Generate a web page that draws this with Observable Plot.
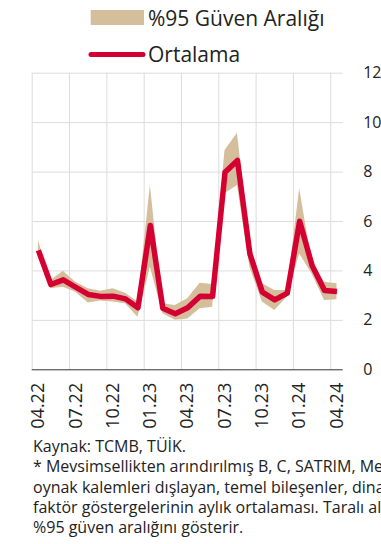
<!DOCTYPE html>
<html>
<head>
<meta charset="utf-8">
<script src="https://cdn.jsdelivr.net/npm/d3@7"></script>
<script src="https://cdn.jsdelivr.net/npm/@observablehq/plot@0.6"></script>
<style>
  html, body { margin: 0; padding: 0; background: #fff; width: 381px; height: 544px; overflow: hidden; }
  body { font-family: "Open Sans", sans-serif; color: #222; }
  #wrap { position: relative; width: 381px; }
  #legend { position: absolute; left: 0; top: 0; display: block; pointer-events: none; }
  #chart svg { display: block; }
  #caption { margin-left: 33px; font-size: 16px; line-height: 20.3px; white-space: nowrap; color: #222; }
</style>
</head>
<body>
<div id="wrap">
  <div id="chart"></div>
  <svg id="legend" width="381" height="70"></svg>
</div>
<div id="caption"></div>
<script>
// ---- data ----
const months = ["04.22","05.22","06.22","07.22","08.22","09.22","10.22","11.22","12.22",
                "01.23","02.23","03.23","04.23","05.23","06.23","07.23","08.23","09.23",
                "10.23","11.23","12.23","01.24","02.24","03.24","04.24"];
const meanValues  = [4.83,3.45,3.64,3.34,3.05,2.97,2.98,2.87,2.51,5.84,2.49,2.27,2.51,2.98,2.97,7.99,8.47,4.69,3.14,2.83,3.10,6.01,4.22,3.21,3.17];
const lowerValues = [4.55,3.28,3.34,3.14,2.70,2.78,2.74,2.67,2.13,4.15,2.27,2.00,2.06,2.47,2.53,7.12,7.46,4.15,2.74,2.40,2.94,4.69,3.88,2.80,2.83];
const upperValues = [5.23,3.60,3.99,3.54,3.28,3.18,3.28,3.10,2.74,7.46,2.67,2.60,2.87,3.50,3.45,8.87,9.57,5.10,3.48,3.21,3.21,7.32,4.35,3.54,3.48];
const tickLabels = ["04.22","07.22","10.22","01.23","04.23","07.23","10.23","01.24","04.24"];
const yTicks = [0,2,4,6,8,10,12];
const legendLabels = ["%95 Güven Aralığı","Ortalama"];
const captionLines = [
  "Kaynak: TCMB, TÜİK.",
  "* Mevsimsellikten arındırılmış B, C, SATRIM, Medyan,",
  "oynak kalemleri dışlayan, temel bileşenler, dinamik",
  "faktör göstergelerinin aylık ortalaması. Taralı alan",
  "%95 güven aralığını gösterir."
];

const bandColor = "#d5be9b";
const lineColor = "#d50032";

const data = months.map((m, i) => ({i, month: m, mean: meanValues[i], lo: lowerValues[i], hi: upperValues[i]}));
const tickIdx = tickLabels.map(t => months.indexOf(t));
const gridX = tickIdx.map(i => i - 0.5);

// ---- chart ----
const chart = Plot.plot({
  width: 381,
  height: 436,
  marginTop: 72.7,
  marginBottom: 66.7,
  marginLeft: 31.7,
  marginRight: 38.3,
  style: {fontFamily: "Open Sans", color: "#222", background: "#fff"},
  x: {type: "linear", domain: [-0.5, months.length - 0.5]},
  y: {domain: [0, 12]},
  marks: [
    Plot.ruleX(gridX, {y1: 0, y2: 12, stroke: "#dcdcdc", strokeWidth: 1}),
    Plot.ruleY(yTicks.filter(v => v > 0), {stroke: "#dcdcdc", strokeWidth: 1}),
    Plot.areaY(data, {x: "i", y1: "lo", y2: "hi", fill: bandColor, curve: "linear"}),
    Plot.lineY(data, {x: "i", y: "mean", stroke: lineColor, strokeWidth: 5.5, strokeLinejoin: "round", strokeLinecap: "butt"}),
    Plot.ruleY([0], {stroke: "#333", strokeWidth: 1}),
    Plot.axisX({ticks: tickIdx, tickFormat: i => months[i], tickRotate: -90, tickSize: 0, tickPadding: 13, fontSize: 18, label: null}),
    Plot.axisY({anchor: "right", ticks: yTicks, tickSize: 0, tickPadding: 20, fontSize: 16, label: null})
  ]
});
document.getElementById("chart").appendChild(chart);

// ---- legend ----
const lg = d3.select("#legend");
lg.append("rect").attr("x", 90.7).attr("y", 10).attr("width", 53.3).attr("height", 15).attr("fill", bandColor);
lg.append("text").attr("x", 148).attr("y", 25.5).attr("font-size", 21).attr("font-family", "Open Sans").attr("fill", "#222").text(legendLabels[0]);
lg.append("line").attr("x1", 91).attr("x2", 143).attr("y1", 54.5).attr("y2", 54.5)
  .attr("stroke", lineColor).attr("stroke-width", 5).attr("stroke-linecap", "round");
lg.append("text").attr("x", 148).attr("y", 61.5).attr("font-size", 21).attr("font-family", "Open Sans").attr("fill", "#222").text(legendLabels[1]);

// ---- caption ----
d3.select("#caption").selectAll("div").data(captionLines).join("div").text(d => d);
</script>
</body>
</html>
